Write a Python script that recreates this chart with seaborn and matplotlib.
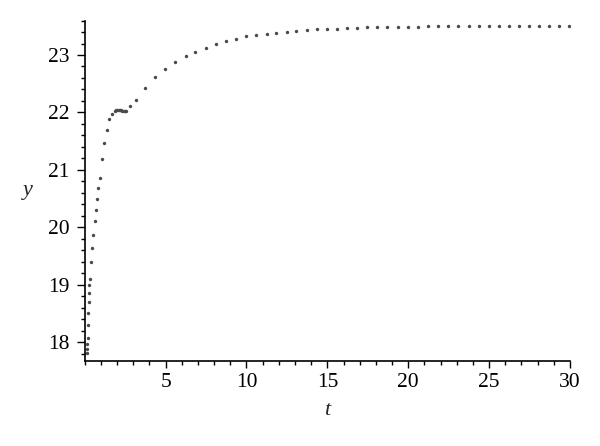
import pandas as pd
import matplotlib
matplotlib.use('Agg')
import matplotlib.pyplot as plt
import seaborn as sns
from matplotlib.ticker import MultipleLocator

# valores (t, y)
t = [0.142, 0.155, 0.170, 0.185, 0.204, 0.222, 0.247, 0.270, 0.284, 0.300,
     0.371, 0.451, 0.532, 0.637, 0.698, 0.779, 0.841, 0.927, 1.069, 1.211,
     1.378, 1.520, 1.687, 1.85, 1.93, 2.01, 2.09, 2.17, 2.25, 2.33,
     2.41, 2.49, 2.57, 2.818, 3.152, 3.745, 4.363, 4.981, 5.600, 6.261,
     6.836, 7.478, 8.115, 8.753, 9.33, 9.99, 10.59, 11.25, 11.84, 12.48,
     13.08, 13.72, 14.34, 14.98, 15.59, 16.19, 16.83, 17.47, 18.08, 18.70,
     19.35, 19.98, 20.60, 21.22, 21.85, 22.47, 23.09, 23.73, 24.35, 24.97,
     25.61, 26.22, 26.84, 27.48, 28.08, 28.70, 29.31, 29.95]
y = [17.81, 17.89, 17.97, 18.08, 18.30, 18.51, 18.70, 18.86, 18.99, 19.10,
     19.40, 19.64, 19.87, 20.11, 20.30, 20.49, 20.68, 20.86, 21.19, 21.46,
     21.70, 21.89, 21.98, 22.03, 22.045, 22.05, 22.05, 22.045, 22.035, 22.03,
     22.025, 22.025, 22.03, 22.11, 22.22, 22.42, 22.61, 22.76, 22.88, 22.98,
     23.05, 23.13, 23.19, 23.24, 23.28, 23.325, 23.354, 23.371, 23.389, 23.406,
     23.423, 23.435, 23.447, 23.452, 23.458, 23.470, 23.476, 23.481, 23.487, 23.493,
     23.493, 23.494, 23.495, 23.496, 23.498, 23.499, 23.5, 23.5, 23.5, 23.5,
     23.5, 23.5, 23.5, 23.5, 23.5, 23.5, 23.5, 23.5]

df = pd.DataFrame({'t': t, 'y': y})

sns.set_style('ticks')
plt.rcParams['font.family'] = ['Liberation Serif', 'DejaVu Serif']

fig, ax = plt.subplots(figsize=(6, 4.46), dpi=100)
fig.subplots_adjust(left=0.1412, right=0.95, bottom=0.1913, top=0.954)

sns.scatterplot(data=df, x='t', y='y', ax=ax, color='#4a4a4a', s=6,
                marker='o', linewidth=0)

ax.set_xlim(0, 30)
ax.set_ylim(17.68, 23.6)
ax.xaxis.set_major_locator(MultipleLocator(5))
ax.xaxis.set_minor_locator(MultipleLocator(1))
ax.yaxis.set_major_locator(MultipleLocator(1))
ax.yaxis.set_minor_locator(MultipleLocator(0.2))
ax.set_xticks([5, 10, 15, 20, 25, 30])

sns.despine(ax=ax)
for s in ['left', 'bottom']:
    ax.spines[s].set_linewidth(1.2)
    ax.spines[s].set_color('black')

ax.tick_params(axis='both', which='major', labelsize=15.5, colors='black',
               width=1, direction='out')
ax.tick_params(axis='x', which='major', length=5, pad=4)
ax.tick_params(axis='y', which='major', length=6, pad=5)
ax.tick_params(axis='both', which='minor', length=3, width=1, color='black')

ax.set_xlabel('t', fontsize=16, style='italic', va='center')
ax.set_ylabel('y', fontsize=16, style='italic', rotation=0, va='center', ha='center')
ax.xaxis.set_label_coords(0.5, -0.145)
ax.yaxis.set_label_coords(-0.117, 0.5)

plt.savefig('out.png', dpi=100)
